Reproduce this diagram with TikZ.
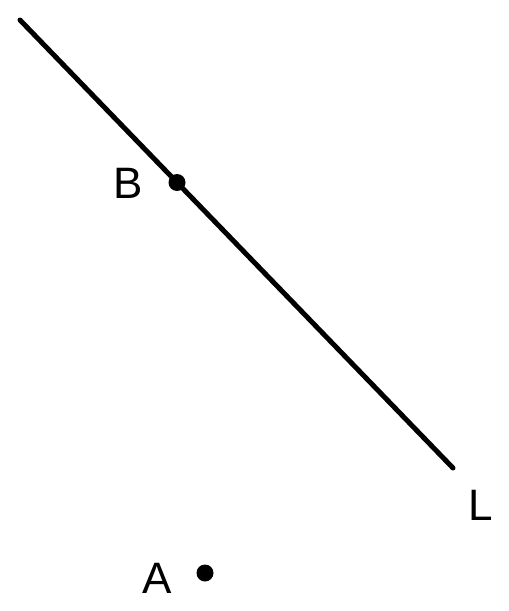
\documentclass[tikz,border=0pt]{standalone}
\usepackage{fontspec}
\setmainfont{Liberation Sans}
\usetikzlibrary{positioning}

\begin{document}
\begin{tikzpicture}[x=1pt,y=-1pt,
        pt/.style={circle,fill=black,inner sep=0pt,minimum size=17pt},
        lbl/.style={font=\fontsize{44}{44}\selectfont,inner sep=0pt}
    ]
    \useasboundingbox (0,0) rectangle (509,611);
    \coordinate (l0) at (20,20);
    \coordinate (l1) at (453,468);
    \draw[line width=5pt,line cap=round] (l0) -- (l1);
    \node[pt] (b) at (177,182.5) {};
    \node[pt] (a) at (205,573) {};
    \node[lbl] (bl) at (128,183) {B};
    \node[lbl] (ll) at (481,505) {L};
    \node[lbl] (al) at (157,578) {A};
\end{tikzpicture}
\end{document}
